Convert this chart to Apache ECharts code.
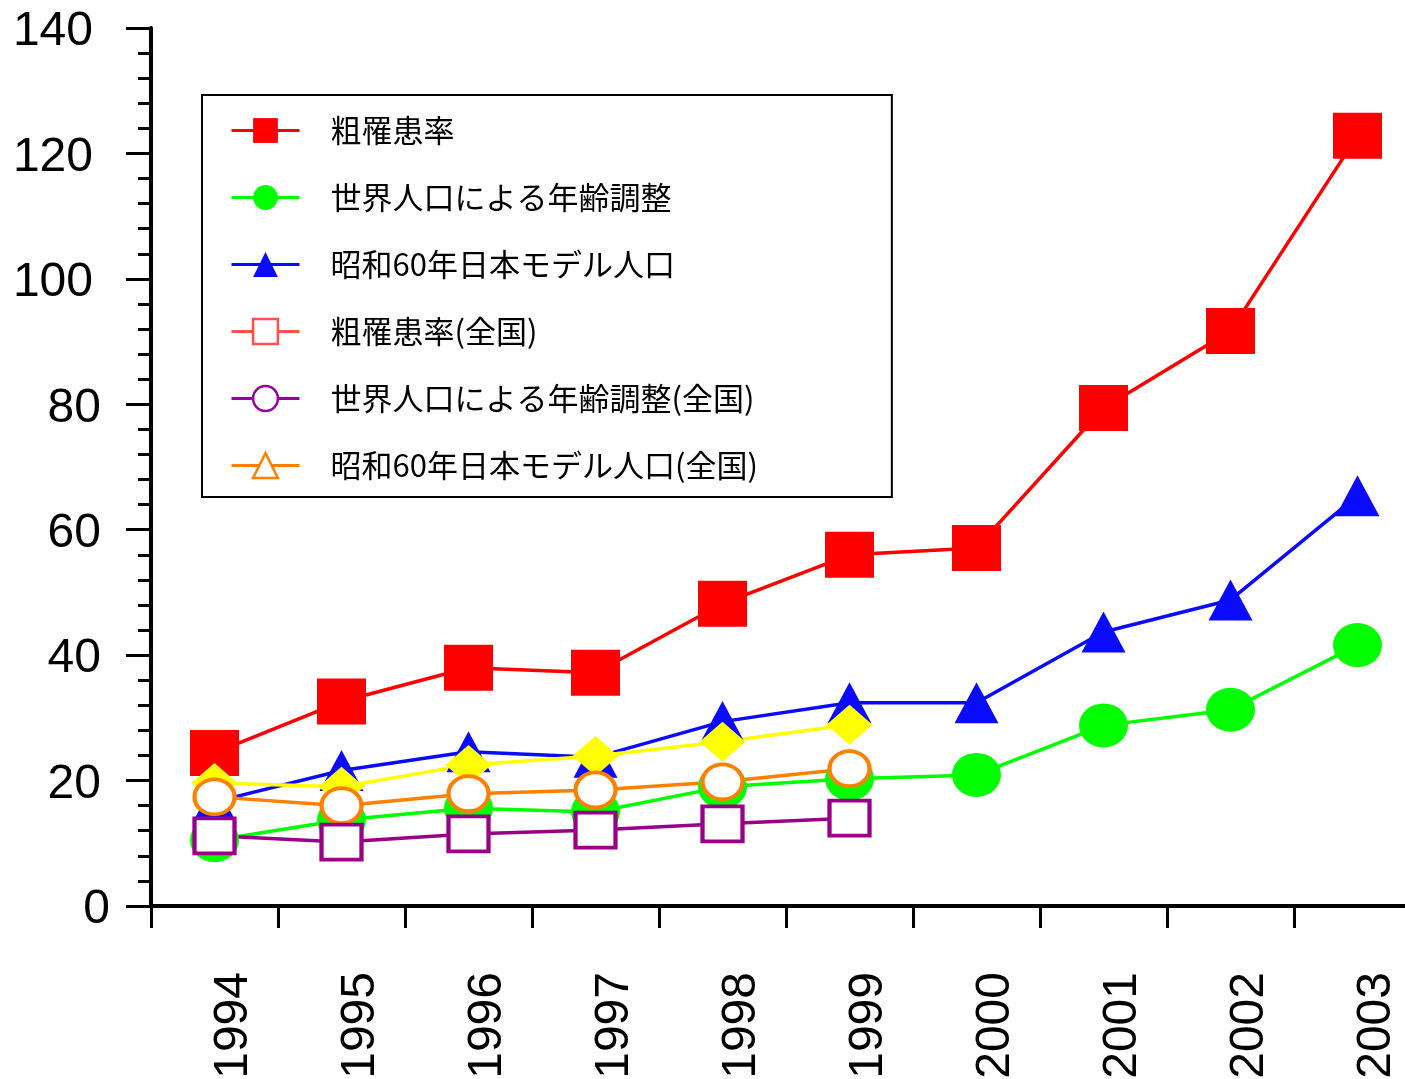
<!DOCTYPE html>
<html>
<head>
<meta charset="utf-8">
<script src="https://cdn.jsdelivr.net/npm/echarts@6/dist/echarts.min.js"></script>
<style>
html,body{margin:0;padding:0;background:#fff;}
#chart{width:1405px;height:1079px;}
</style>
</head>
<body>
<div id="chart"></div>
<script>
// ---- data ----
const years = ['1994','1995','1996','1997','1998','1999','2000','2001','2002','2003'];
const yTicks = [0, 20, 40, 60, 80, 100, 120, 140];

const crudeRate   = [24.4, 32.6, 38.0, 37.2, 48.2, 56.0, 57.1, 79.4, 91.7, 122.8];
const worldAdj    = [10.5, 13.7, 15.6, 15.0, 19.0, 20.3, 20.9, 28.8, 31.3, 41.6];
const showaAdj    = [16.6, 21.6, 24.6, 23.7, 29.4, 32.4, 32.4, 43.7, 48.8, 65.4];
const crudeRateNat = [19.6, 19.0, 22.5, 23.9, 26.2, 28.9];
const showaAdjNat  = [17.4, 16.0, 17.9, 18.5, 19.8, 21.9];
const worldAdjNat  = [11.2, 10.2, 11.5, 12.1, 13.1, 14.0];

const names = [
  '粗罹患率',
  '世界人口による年齢調整',
  '昭和60年日本モデル人口',
  '粗罹患率(全国)',
  '世界人口による年齢調整(全国)',
  '昭和60年日本モデル人口(全国)'
];

// ---- chart ----
const NUM_FONT = '"Liberation Sans", Arial, sans-serif';
const JP_FONT = '"Noto Sans CJK JP", "Noto Sans", sans-serif';

function pointItems(values, symbol, size) {
  return values.map(v => ({ value: v, symbol: symbol, symbolSize: size }));
}

const chart = echarts.init(document.getElementById('chart'), null, { renderer: 'canvas' });

const labelRich = {
  d3: { fontSize: 48, fontFamily: NUM_FONT, color: '#000', padding: [8, 17, 0, 0] },
  d2: { fontSize: 48, fontFamily: NUM_FONT, color: '#000', padding: [8, 9, 0, 0] },
  d1: { fontSize: 48, fontFamily: NUM_FONT, color: '#000', padding: [8, 0, 0, 0] }
};

const option = {
  animation: false,
  backgroundColor: '#fff',
  grid: { left: 151, width: 1270, top: 28, bottom: 173, containLabel: false, outerBoundsMode: 'none' },
  legend: {
    orient: 'vertical',
    left: 202,
    top: 95,
    padding: [20, 134, 16, 28],
    itemWidth: 68,
    itemHeight: 31,
    itemGap: 36,
    borderColor: '#000',
    borderWidth: 2,
    backgroundColor: '#fff',
    selectedMode: false,
    lineStyle: { width: 3 },
    textStyle: {
      fontSize: 31,
      fontFamily: JP_FONT,
      color: '#000',
      padding: [0, 0, 0, 26]
    },
    data: [
      { name: names[0] },
      { name: names[1] },
      { name: names[2] },
      { name: names[3], itemStyle: { color: '#fff', borderColor: '#ff5050', borderWidth: 2.5 }, lineStyle: { color: '#ff5050', width: 3 } },
      { name: names[4], itemStyle: { color: '#fff', borderColor: '#990099', borderWidth: 2.5 }, lineStyle: { color: '#990099', width: 3 } },
      { name: names[5], itemStyle: { color: '#fff', borderColor: '#ff8000', borderWidth: 2.5 }, lineStyle: { color: '#ff8000', width: 3 } }
    ]
  },
  xAxis: {
    type: 'category',
    data: years,
    boundaryGap: true,
    axisLine: { show: true, lineStyle: { color: '#000', width: 4 } },
    axisTick: { show: true, length: 22, lineStyle: { color: '#000', width: 3 } },
    axisLabel: {
      interval: 0,
      rotate: 90,
      margin: 66,
      fontSize: 48,
      lineHeight: 38,
      fontFamily: NUM_FONT,
      color: '#000',
      verticalAlign: 'top'
    },
    splitLine: { show: false }
  },
  yAxis: {
    type: 'value',
    min: yTicks[0],
    max: yTicks[yTicks.length - 1],
    interval: 20,
    axisLine: { show: true, lineStyle: { color: '#000', width: 4 } },
    axisTick: { show: true, length: 25, lineStyle: { color: '#000', width: 3 } },
    minorTick: { show: true, splitNumber: 5, length: 13, lineStyle: { color: '#000', width: 3 } },
    splitLine: { show: false },
    minorSplitLine: { show: false },
    axisLabel: {
      margin: 41,
      align: 'right',
      fontSize: 48,
      fontFamily: NUM_FONT,
      color: '#000',
      formatter: function (v) {
        const s = String(v);
        return '{d' + s.length + '|' + s + '}';
      },
      rich: labelRich
    }
  },
  series: [
    {
      name: names[0], type: 'line', data: crudeRate,
      symbol: 'rect', symbolSize: [49, 46],
      itemStyle: { color: '#ff0000' },
      lineStyle: { color: '#ff0000', width: 3.5 }
    },
    {
      name: names[1], type: 'line', data: worldAdj,
      symbol: 'circle', symbolSize: [49, 44],
      itemStyle: { color: '#00ff00' },
      lineStyle: { color: '#00ff00', width: 3.5 }
    },
    {
      name: names[2], type: 'line', data: showaAdj,
      symbol: 'triangle', symbolSize: [44, 41],
      itemStyle: { color: '#0a0aff' },
      lineStyle: { color: '#0a0aff', width: 3.5 }
    },
    {
      name: names[3], type: 'line',
      data: pointItems(crudeRateNat, 'diamond', [46, 40]),
      symbol: 'rect', symbolSize: [46, 40],
      itemStyle: { color: '#ffff00' },
      lineStyle: { color: '#ffff00', width: 3.5 }
    },
    {
      name: names[5], type: 'line',
      data: pointItems(showaAdjNat, 'circle', [40, 35]),
      symbol: 'triangle', symbolSize: [40, 35],
      itemStyle: { color: '#ffffff', borderColor: '#ff8000', borderWidth: 4 },
      lineStyle: { color: '#ff8000', width: 3.5 }
    },
    {
      name: names[4], type: 'line',
      data: pointItems(worldAdjNat, 'rect', [40, 35]),
      symbol: 'circle', symbolSize: [40, 35],
      itemStyle: { color: '#ffffff', borderColor: '#990088', borderWidth: 4 },
      lineStyle: { color: '#990088', width: 3.5 }
    }
  ]
};

chart.setOption(option);
</script>
</body>
</html>
